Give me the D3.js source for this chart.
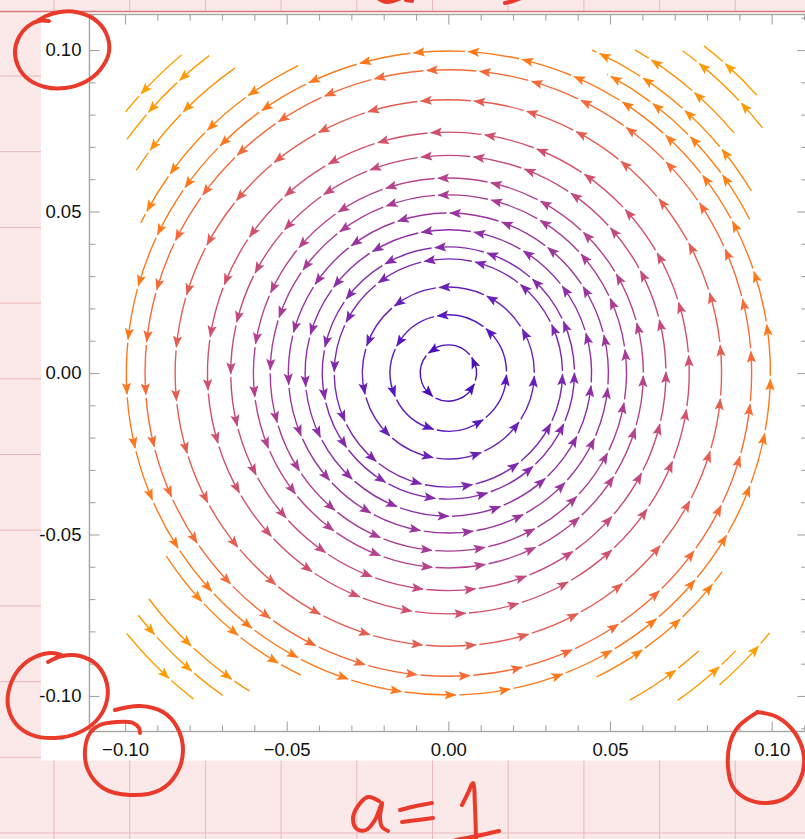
<!DOCTYPE html>
<html><head><meta charset="utf-8">
<script src="https://cdn.jsdelivr.net/npm/d3@7"></script>
<style>html,body{margin:0;padding:0;background:#fbe8e8;}svg{display:block;}</style>
</head><body>
<svg id="chart" width="805" height="839"></svg>
<script>
// ---------------- data ----------------
const xMajorTicks = [-0.10, -0.05, 0.00, 0.05, 0.10];
const xTickLabels = ["\u22120.10", "\u22120.05", "0.00", "0.05", "0.10"];
const yMajorTicks = [-0.10, -0.05, 0.00, 0.05, 0.10];
const yTickLabels = ["-0.10", "-0.05", "0.00", "0.05", "0.10"];
const minorTicks = [-0.11,-0.09,-0.08,-0.07,-0.06,-0.04,-0.03,-0.02,-0.01,0.01,0.02,0.03,0.04,0.06,0.07,0.08,0.09,0.11];

// closed streamlines (circles) of the field (-a*y, a*x), a = 1
const ringRadius     = [0.0087, 0.0180, 0.0266, 0.0353, 0.0390, 0.0443, 0.0495, 0.0551, 0.0603, 0.0673, 0.0745, 0.0845, 0.0938, 0.0996];
const ringArrowCount = [4, 7, 11, 14, 15, 17, 19, 21, 23, 26, 28, 32, 36, 37];
const ringArrowPhase = [24, 45, 93, 177, 190, 183.6, 182.5, 177.5, 170, 179, 183, 173.6, 173.2, 173.2];
const ringArrowStep  = [101.3, 51.43, 32.73, 25.71, 24, 21.18, 18.95, 17.14, 15.65, 13.85, 12.86, 11.25, 10, 9.73];

// partial streamlines in the four corners: radius, from-angle, to-angle (deg), arrow positions (deg)
const cornerRadius = [0.1046, 0.1093, 0.1154, 0.1232, 0.1284,
                      0.1058, 0.1151, 0.1229, 0.1284,
                      0.1040, 0.1160, 0.1217, 0.1280,
                      0.1046, 0.1157, 0.1236, 0.1278];
const cornerFrom   = [27, 31, 40, 38, 42,
                      116, 125, 127, 130,
                      213, 217, 218, 219,
                      296, 299, 305, 311];
const cornerTo     = [62, 66, 60, 54, 52,
                      154, 147, 144, 141,
                      244, 238, 235, 232,
                      324, 312, 316, 321];
const cornerArrows = [[35, 43.5, 52, 60.5], [38.5, 47.2, 55.8, 63.9], [48, 56.3], [42, 50.3], [47.5],
                      [125, 134, 143.6, 151], [134.7, 142.5], [131.9, 138.3], [137.1],
                      [222, 230.5, 238.8], [226, 234], [221, 228.6], [226.9],
                      [304.2, 312.5, 320.5], [306.7], [312], [318]];

// colour by speed |v| = a*r
const speedStops = [0.000, 0.009, 0.018, 0.027, 0.035, 0.045, 0.055, 0.062, 0.068, 0.075, 0.084, 0.094, 0.100, 0.110, 0.120, 0.130];
const colorStops = ["#3c08aa", "#4a0fb8", "#5818c0", "#6a20b8", "#7c27b0", "#9030a6", "#a83c94", "#b8448a", "#c44a7c", "#d2526c", "#e25c52", "#f56a36", "#ff7a1a", "#ff8a0c", "#ff9806", "#ffa400"];

// ---------------- drawing ----------------
const W = 805, H = 839;
const svg = d3.select("#chart");
const x = d3.scaleLinear().domain([-0.111, 0.111]).range([89.45, 807.25]);
const y = d3.scaleLinear().domain([-0.111, 0.111]).range([731.5, 14.5]);
const color = d3.scaleLinear().domain(speedStops).range(colorStops).interpolate(d3.interpolateRgb).clamp(true);

// notebook page background
svg.append("rect").attr("width", W).attr("height", H).attr("fill", "#fbe8e8");
const grid = svg.append("g").attr("stroke", "#e9b9bb").attr("stroke-width", 1);
[54, 129.7, 205.4, 281.1, 356.8, 432.5, 508.2, 583.9, 659.6, 735.3, 811].forEach(gx =>
  grid.append("line").attr("x1", gx).attr("x2", gx).attr("y1", 0).attr("y2", H));
[76, 151.7, 227.4, 303.1, 378.8, 454.5, 530.2, 605.9, 681.6, 757.3, 833].forEach(gy =>
  grid.append("line").attr("x1", 0).attr("x2", W).attr("y1", gy).attr("y2", gy));

// pasted white plot image
svg.append("rect").attr("x", 41).attr("y", 12).attr("width", W - 41).attr("height", 748.5).attr("fill", "#ffffff");
svg.append("line").attr("x1", 0).attr("x2", W).attr("y1", 11.5).attr("y2", 11.5)
  .attr("stroke", "#d8777a").attr("stroke-width", 1.3);

// clip for streamlines
svg.append("defs").append("clipPath").attr("id", "frameClip").append("rect")
  .attr("x", x(-0.111)).attr("y", y(0.111)).attr("width", x(0.111) - x(-0.111)).attr("height", y(-0.111) - y(0.111));

const cx = x(0), cy = y(0);
const pxPerUnit = x(1) - x(0);
const rad = d => d * Math.PI / 180;
const gapPx = 3.5;
const lineW = 1.4;
const tipLead = 4.5; // arrow positions are read at the arrowhead centre

const streams = svg.append("g").attr("clip-path", "url(#frameClip)");
const arrowShape = "M1,0 L-11,-4.6 L-8.6,0 L-11,4.6 Z";

function arcPath(rp, a0, a1) { // math degrees, counter-clockwise from a0 to a1
  const p = d3.path();
  const t0 = rad(a0), t1 = rad(a1);
  p.moveTo(cx + rp * Math.cos(t0), cy - rp * Math.sin(t0));
  p.arc(cx, cy, rp, -t0, -t1, true);
  return p.toString();
}
function drawArrow(g, rp, aDeg, col) {
  const t = rad(aDeg);
  const tx = cx + rp * Math.cos(t), ty = cy - rp * Math.sin(t);
  const tm = t - 5.5 / rp;
  const dir = Math.atan2(-Math.cos(tm), -Math.sin(tm)) * 180 / Math.PI;
  g.append("path").attr("d", arrowShape)
    .attr("transform", `translate(${tx},${ty}) rotate(${dir})`)
    .attr("fill", col).attr("stroke", "none");
}

// full rings
ringRadius.forEach((R, i) => {
  const rp = R * pxPerUnit;
  const col = color(R);
  const n = ringArrowCount[i];
  const lead = tipLead / rp * 180 / Math.PI;
  const tips = d3.range(n).map(k => ringArrowPhase[i] + lead + k * ringArrowStep[i]);
  const gapDeg = gapPx / rp * 180 / Math.PI;
  const g = streams.append("g");
  tips.forEach((a, k) => {
    const prev = k === 0 ? tips[n - 1] - 360 : tips[k - 1];
    g.append("path").attr("d", arcPath(rp, prev + gapDeg, a))
      .attr("fill", "none").attr("stroke", col).attr("stroke-width", lineW);
  });
  tips.forEach(a => drawArrow(g, rp, a, col));
});

// corner streamlines
cornerRadius.forEach((R, i) => {
  const rp = R * pxPerUnit;
  const col = color(R);
  const gapDeg = gapPx / rp * 180 / Math.PI;
  const lead = tipLead / rp * 180 / Math.PI;
  const tips = cornerArrows[i].map(a => a + lead);
  const bounds = [cornerFrom[i]].concat(tips.map(a => a + gapDeg));
  const ends = tips.concat([cornerTo[i]]);
  const g = streams.append("g");
  bounds.forEach((b, k) => {
    if (ends[k] > b) g.append("path").attr("d", arcPath(rp, b, ends[k]))
      .attr("fill", "none").attr("stroke", col).attr("stroke-width", lineW);
  });
  tips.forEach(a => drawArrow(g, rp, a, col));
});

// frame and ticks
const axisCol = "#a4a4a4";
svg.append("rect").attr("x", x(-0.111)).attr("y", y(0.111))
  .attr("width", x(0.111) - x(-0.111)).attr("height", y(-0.111) - y(0.111))
  .attr("fill", "none").attr("stroke", axisCol).attr("stroke-width", 1.4);

function styleAxis(g) {
  g.select(".domain").remove();
  g.selectAll(".tick line").attr("stroke", axisCol).attr("stroke-width", 1.1);
  g.selectAll(".tick text").attr("fill", "#111").attr("font-family", "'Liberation Sans', Arial, sans-serif").attr("font-size", "18.5px");
}
// bottom
svg.append("g").attr("transform", `translate(0,${y(-0.111)})`)
  .call(d3.axisBottom(x).tickValues(xMajorTicks).tickFormat((d, i) => xTickLabels[i]).tickSizeInner(-10).tickSizeOuter(0).tickPadding(11))
  .call(styleAxis);
svg.append("g").attr("transform", `translate(0,${y(-0.111)})`)
  .call(d3.axisBottom(x).tickValues(minorTicks).tickFormat("").tickSizeInner(-6).tickSizeOuter(0)).call(styleAxis);
// top
svg.append("g").attr("transform", `translate(0,${y(0.111)})`)
  .call(d3.axisTop(x).tickValues(xMajorTicks).tickFormat("").tickSizeInner(-10).tickSizeOuter(0)).call(styleAxis);
svg.append("g").attr("transform", `translate(0,${y(0.111)})`)
  .call(d3.axisTop(x).tickValues(minorTicks).tickFormat("").tickSizeInner(-6).tickSizeOuter(0)).call(styleAxis);
// left
svg.append("g").attr("transform", `translate(${x(-0.111)},0)`)
  .call(d3.axisLeft(y).tickValues(yMajorTicks).tickFormat((d, i) => yTickLabels[i]).tickSizeInner(-10).tickSizeOuter(0).tickPadding(8))
  .call(styleAxis);
svg.append("g").attr("transform", `translate(${x(-0.111)},0)`)
  .call(d3.axisLeft(y).tickValues(minorTicks).tickFormat("").tickSizeInner(-6).tickSizeOuter(0)).call(styleAxis);
// right
svg.append("g").attr("transform", `translate(${x(0.111)},0)`)
  .call(d3.axisRight(y).tickValues(yMajorTicks).tickFormat("").tickSizeInner(-10).tickSizeOuter(0)).call(styleAxis);
svg.append("g").attr("transform", `translate(${x(0.111)},0)`)
  .call(d3.axisRight(y).tickValues(minorTicks).tickFormat("").tickSizeInner(-6).tickSizeOuter(0)).call(styleAxis);

// ---------------- handwritten red annotations ----------------
const pen = svg.append("g").attr("fill", "none").attr("stroke", "#e93a2b")
  .attr("stroke-width", 4).attr("stroke-linecap", "round").attr("stroke-linejoin", "round");
const hand = d3.line().curve(d3.curveCatmullRom.alpha(0.5));
const strokes = [
  // circle round y label 0.10
  [[49,21],[38,21],[27,27],[19,37],[15,51],[18,66],[28,79],[45,87],[65,88],[85,82],[100,70],[109,52],[106,33],[94,19],[76,12],[60,12],[46,16],[36,22]],
  // circle round y label -0.10
  [[48,662],[62,656],[80,656],[97,665],[107,684],[106,704],[96,721],[78,733],[55,738],[32,735],[16,724],[8,706],[10,686],[20,668],[35,657],[52,653],[64,656]],
  // circle round x label -0.10
  [[115,710],[140,706],[163,712],[177,727],[183,750],[177,773],[160,790],[130,795],[103,788],[88,770],[85,750],[90,733],[100,725],[117,722],[133,723],[139,728],[140,733]],
  // circle round x label 0.10
  [[757,712],[777,717],[795,733],[804,757],[800,780],[787,797],[767,803],[747,799],[733,787],[728,767],[730,743],[738,727],[750,717],[758,712]],
  // "a"
  [[379,801],[368,797],[358,806],[353,819],[357,829],[366,830],[375,820],[382,803],[380,817],[382,827],[388,831]],
  // "="
  [[400,810],[416,806],[432,803]],
  [[402,822],[418,820],[433,818]],
  // "1"
  [[462,805],[468,793],[473,783],[475,807],[476,840]],
  [[456,840],[477,836],[499,831]],
  // remains of writing above the page edge
  [[376,-3],[386,2],[399,-1]],
  [[406,0],[412,1]],
  [[505,3],[513,1],[521,-2]]
];
strokes.forEach(s => pen.append("path").attr("d", hand(s)));
</script>
</body></html>
